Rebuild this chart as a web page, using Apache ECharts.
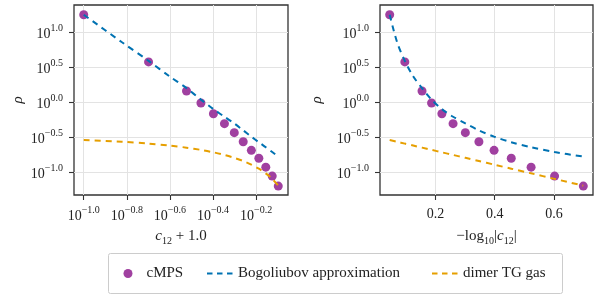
<!DOCTYPE html>
<html>
<head>
<meta charset="utf-8">
<script src="https://cdn.jsdelivr.net/npm/echarts@6/dist/echarts.min.js"></script>
<style>
  html, body { margin: 0; padding: 0; background: #ffffff; }
  #chart { width: 600px; height: 300px; }
</style>
</head>
<body>
<div id="chart"></div>
<script>
// ---- data ----
// coupling values c12 at which the cMPS points were computed
const c12Points = [-0.9, -0.8, -0.7, -0.65, -0.6, -0.55, -0.5, -0.45, -0.4, -0.35, -0.3, -0.25, -0.2];
// cMPS density rho
const rhoCMPS = [17.8, 3.76, 1.44, 0.97, 0.682, 0.491, 0.365, 0.271, 0.204, 0.157, 0.117, 0.0873, 0.0628];
// c12 values sampled along the curves
const c12Curve = [-0.9, -0.85, -0.8, -0.75, -0.7, -0.65, -0.6, -0.55, -0.5, -0.45, -0.4, -0.35, -0.3, -0.25, -0.2];
// Bogoliubov approximation rho
const rhoBogoliubov = [17.8, 7.24, 3.89, 2.34, 1.585, 1.084, 0.794, 0.617, 0.495, 0.394, 0.320, 0.266, 0.226, 0.193, 0.166];
// dimer TG gas rho
const rhoDimerTG = [0.2865, 0.2706, 0.2546, 0.2387, 0.2228, 0.2069, 0.1910, 0.1751, 0.1592, 0.1432, 0.1273, 0.1114, 0.0955, 0.0796, 0.0637];
// tick values (exponents of 10 for log axes)
const yTickExps = [-1.0, -0.5, 0.0, 0.5, 1.0];
const xLeftTickExps = [-1.0, -0.8, -0.6, -0.4, -0.2];
const xRightTicks = [0.2, 0.4, 0.6];
const legendNames = ['cMPS', 'Bogoliubov approximation', 'dimer TG gas'];

// ---- styling ----
const FONT = 'Liberation Serif';
const PURPLE = '#a040a0';
const BLUE = '#0072B2';
const ORANGE = '#E69F00';
const GRIDC = '#e3e3e3';
const FRAME = '#333333';

const lg = Math.log10;
const leftX = c => lg(1 + c);
const rightX = c => -lg(Math.abs(c));

function pairs(cs, vals, fx) { return cs.map((c, i) => [fx(c), lg(vals[i])]); }

function fmtExp(v) {
  if (Math.abs(v) < 1e-9) v = 0;
  return v.toFixed(1).replace('-', '\u2212');
}
const richPow = {
  b: { fontFamily: FONT, fontSize: 14, color: '#222', lineHeight: 18, verticalAlign: 'bottom' },
  s: { fontFamily: FONT, fontSize: 10, color: '#222', lineHeight: 18, verticalAlign: 'top' }
};
const powLabel = v => '{b|10}{s|' + fmtExp(v) + '}';

function baseAxis() {
  return {
    type: 'value',
    axisLine: { show: false, onZero: false },
    axisTick: { show: true, length: 5, lineStyle: { color: FRAME, width: 1.1 } },
    splitLine: { show: true, lineStyle: { color: GRIDC, width: 1 } },
    axisLabel: { margin: 10, color: '#222', fontFamily: FONT, fontSize: 14 }
  };
}

function yAxis(gi) {
  const a = baseAxis();
  a.gridIndex = gi;
  a.min = -1.33; a.max = 1.39;
  a.axisTick.customValues = yTickExps;
  a.axisLabel.customValues = yTickExps;
  a.axisLabel.formatter = powLabel;
  a.axisLabel.rich = richPow;
  a.axisLabel.margin = 11;
  a.name = 'ρ';
  a.nameLocation = 'middle';
  a.nameRotate = 90;
  a.nameGap = gi === 0 ? 48 : 55;
  a.nameTextStyle = { fontFamily: FONT, fontSize: 15, fontStyle: 'italic', color: '#222' };
  return a;
}

const titleRich = {
  i: { fontFamily: FONT, fontSize: 15, fontStyle: 'italic', color: '#222' },
  sub: { fontFamily: FONT, fontSize: 10, color: '#222', verticalAlign: 'bottom', lineHeight: 20 },
  n: { fontFamily: FONT, fontSize: 15, color: '#222' }
};

const xLeft = Object.assign(baseAxis(), {
  gridIndex: 0, min: -1.0452, max: -0.0517, position: 'bottom',
  name: '{i|c}{sub|12}{n| + 1.0}', nameLocation: 'middle', nameGap: 31,
  nameTextStyle: { rich: titleRich }
});
xLeft.axisTick.customValues = xLeftTickExps;
xLeft.axisLabel.customValues = xLeftTickExps;
xLeft.axisLabel.formatter = powLabel;
xLeft.axisLabel.rich = richPow;

const xRight = Object.assign(baseAxis(), {
  gridIndex: 1, min: 0.0131, max: 0.7317, position: 'bottom',
  name: '{n|\u2212log}{sub|10}{n||}{i|c}{sub|12}{n||}', nameLocation: 'middle', nameGap: 31,
  nameTextStyle: { rich: titleRich }
});
xRight.axisTick.customValues = xRightTicks;
xRight.axisLabel.customValues = xRightTicks;
xRight.axisLabel.formatter = v => v.toFixed(1);
xRight.axisLabel.margin = 12;

function makeSeries(gi, fx) {
  return [
    { name: legendNames[0], type: 'scatter', xAxisIndex: gi, yAxisIndex: gi, z: 2,
      symbol: 'circle', symbolSize: 9, itemStyle: { color: PURPLE, opacity: 1 },
      data: pairs(c12Points, rhoCMPS, fx) },
    { name: legendNames[1], type: 'line', xAxisIndex: gi, yAxisIndex: gi, z: 3,
      symbol: 'none', smooth: 0.3, color: BLUE,
      lineStyle: { color: BLUE, width: 2, type: [6, 5] },
      data: pairs(c12Curve, rhoBogoliubov, fx) },
    { name: legendNames[2], type: 'line', xAxisIndex: gi, yAxisIndex: gi, z: 3,
      symbol: 'none', smooth: 0.3, color: ORANGE,
      lineStyle: { color: ORANGE, width: 2, type: [6, 5] },
      data: pairs(c12Curve, rhoDimerTG, fx) }
  ];
}

function legendFor(i, left, isLine) {
  const l = {
    data: [legendNames[i]], left: left, top: 266, itemWidth: isLine ? 26 : 9, itemHeight: isLine ? 14 : 9,
    itemGap: 0, padding: 0, selectedMode: false,
    textStyle: { fontFamily: FONT, fontSize: 15, color: '#222', padding: [0, 0, 0, isLine ? 0 : 9] }
  };
  if (isLine) {
    l.itemStyle = { opacity: 0 };
    l.lineStyle = { type: [5.5, 4.5], width: 2 };
  }
  return l;
}

const chart = echarts.init(document.getElementById('chart'), null, { renderer: 'canvas' });
chart.setOption({
  animation: false,
  backgroundColor: '#ffffff',
  grid: [
    { left: 74, top: 5, width: 214, height: 190, show: true, borderColor: FRAME, borderWidth: 1.3, backgroundColor: 'transparent' },
    { left: 380, top: 5, width: 213, height: 190, show: true, borderColor: FRAME, borderWidth: 1.3, backgroundColor: 'transparent' }
  ],
  xAxis: [xLeft, xRight],
  yAxis: [yAxis(0), yAxis(1)],
  legend: [legendFor(0, 123.5, false), legendFor(1, 206, true), legendFor(2, 431, true)],
  graphic: [{
    type: 'rect', left: 108, top: 253, z: -1,
    shape: { width: 454, height: 40, r: 2 },
    style: { fill: '#ffffff', stroke: '#cccccc', lineWidth: 1 }
  }],
  series: makeSeries(0, leftX).concat(makeSeries(1, rightX))
});
</script>
</body>
</html>
